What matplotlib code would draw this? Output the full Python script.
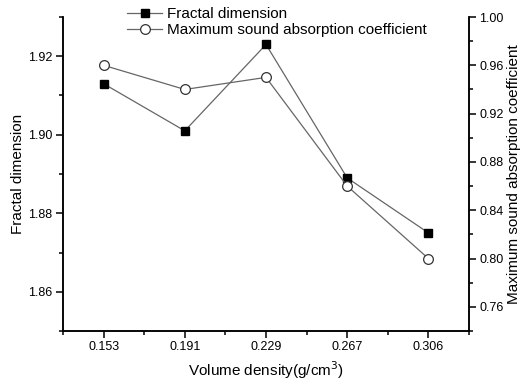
import matplotlib.pyplot as plt
from matplotlib.ticker import MultipleLocator, AutoMinorLocator

plt.rcParams['font.family'] = ['Liberation Sans', 'DejaVu Sans']

density_labels = ['0.153', '0.191', '0.229', '0.267', '0.306']
fractal_dim = [1.913, 1.901, 1.923, 1.889, 1.875]
max_absorption = [0.96, 0.94, 0.95, 0.86, 0.80]

x = list(range(1, len(density_labels) + 1))

fig = plt.figure(figsize=(5.21, 3.83), dpi=100)
ax = fig.add_axes([63 / 521, 52 / 383, 406 / 521, 314 / 383])
ax2 = ax.twinx()

line_color = '#666666'
l1, = ax.plot(x, fractal_dim, color=line_color, lw=0.9, marker='s', ms=6,
              mfc='black', mec='black')
l2, = ax2.plot(x, max_absorption, color=line_color, lw=0.9, marker='o', ms=7,
               mfc='white', mec='#333333', mew=0.9)

ax.set_xlim(0.5, 5.5)
ax.set_xticks(x)
ax.set_xticklabels(density_labels)
ax.xaxis.set_minor_locator(MultipleLocator(0.5))
ax.set_ylim(1.85, 1.93)
ax.yaxis.set_major_locator(MultipleLocator(0.02))
ax.yaxis.set_minor_locator(AutoMinorLocator(2))
ax.yaxis.set_major_formatter(plt.FormatStrFormatter('%.2f'))
ax2.set_ylim(0.74, 1.00)
ax2.yaxis.set_major_locator(MultipleLocator(0.04))
ax2.yaxis.set_minor_locator(AutoMinorLocator(2))
ax2.yaxis.set_major_formatter(plt.FormatStrFormatter('%.2f'))

for a in (ax, ax2):
    a.spines['top'].set_visible(False)
    for s in a.spines.values():
        s.set_linewidth(1.1)
    a.tick_params(which='major', direction='out', length=5, width=1.1,
                  labelsize=9, pad=2.5)
    a.tick_params(which='minor', direction='out', length=3, width=1.1)

ax.set_xlabel('Volume density(g/cm$^3$)', fontsize=11, labelpad=4)
ax.set_ylabel('Fractal dimension', fontsize=11, labelpad=2)
ax2.set_ylabel('Maximum sound absorption coefficient', fontsize=11, labelpad=2)

fig.legend([l1, l2], ['Fractal dimension', 'Maximum sound absorption coefficient'],
           loc='upper left', bbox_to_anchor=(127 / 521, 1 - 7 / 383),
           frameon=False, fontsize=11, handlelength=2.3, handletextpad=0.3,
           labelspacing=0.15, borderaxespad=0, borderpad=0)

fig.savefig('out.png', dpi=100)
